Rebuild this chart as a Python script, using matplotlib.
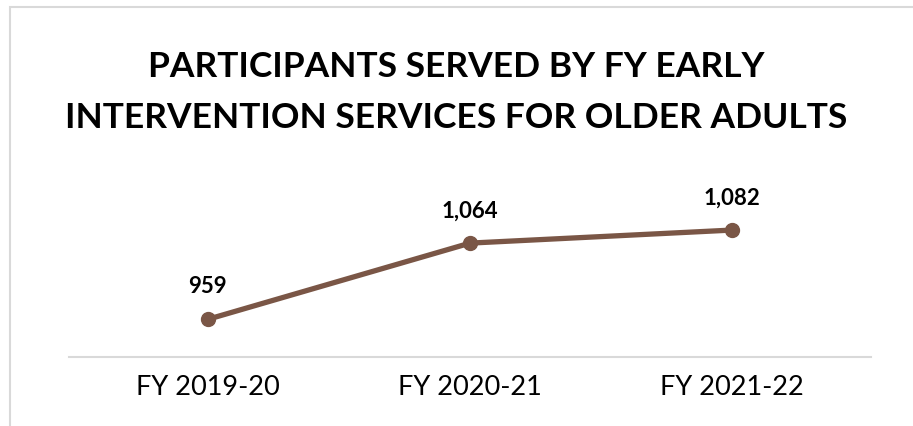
import matplotlib
matplotlib.use("Agg")
import matplotlib.pyplot as plt
from matplotlib.patches import Rectangle

categories = ["FY 2019-20", "FY 2020-21", "FY 2021-22"]
participants = [959, 1064, 1082]
title = "PARTICIPANTS SERVED BY FY EARLY\nINTERVENTION SERVICES FOR OLDER ADULTS"

line_color = "#7A5646"

fig = plt.figure(figsize=(9.13, 4.27), dpi=100)
fig.patch.set_facecolor("white")

# light frame around the chart area
fig.patches.append(Rectangle((10 / 913, -0.05), 1.0, 1 - 8 / 427 + 0.05,
                             transform=fig.transFigure, fill=False,
                             edgecolor="#D9D9D9", linewidth=1.5))

ax = fig.add_axes([69 / 913, 1 - 358 / 427, (871 - 69) / 913, (358 - 218) / 427])
x = list(range(len(categories)))
ax.plot(x, participants, color=line_color, linewidth=3.8, marker="o",
        markersize=10, solid_capstyle="round")
ax.set_xlim(-0.53, len(categories) - 1 + 0.53)
ax.set_ylim(907, 1100)

for xi, v in zip(x, participants):
    ax.annotate(f"{v:,}", (xi, v), xytext=(0, 24), textcoords="offset points",
                ha="center", va="center", fontsize=16, fontweight="bold",
                family="Lato", color="black")

ax.set_xticks(x)
ax.set_xticklabels(categories, fontsize=19.5, family="Lato")
ax.tick_params(axis="x", length=0, pad=12)
ax.set_yticks([])
for s in ["top", "right", "left"]:
    ax.spines[s].set_visible(False)
ax.spines["bottom"].set_color("#D9D9D9")
ax.spines["bottom"].set_linewidth(1.5)
ax.patch.set_alpha(0)

fig.text(0.5, 1 - 92.5 / 427, title, ha="center", va="center", fontsize=25.5,
         fontweight="bold", family="Lato", linespacing=1.7)

fig.savefig("out.png", dpi=100)
